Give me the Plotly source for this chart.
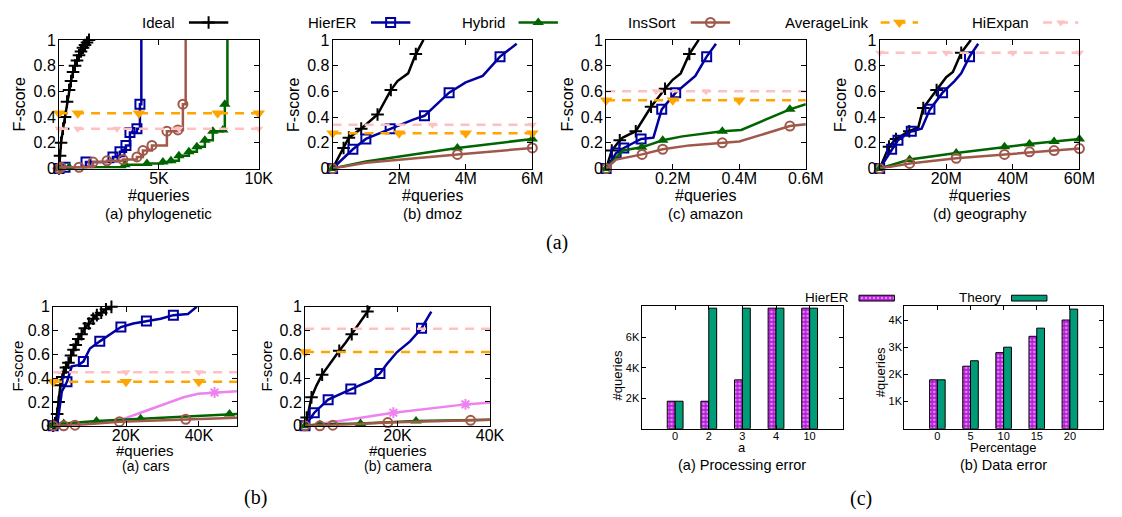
import plotly.graph_objects as go

W, H = 1122, 517
FONT = "Liberation Sans, Arial, sans-serif"
SERIF = "Liberation Serif, Times New Roman, serif"

# ---------------- data ----------------
# (a) phylogenetic  (x in thousands of queries)
phylo_ideal_x = [0, 0.05, 0.1, 0.2, 0.3, 0.4, 0.5, 0.6, 0.7, 0.8, 0.9, 1.0, 1.1, 1.2, 1.3, 1.4, 1.5]
phylo_ideal_y = [0, 0.1, 0.2, 0.31, 0.4, 0.52, 0.61, 0.68, 0.75, 0.8, 0.84, 0.88, 0.91, 0.94, 0.96, 0.98, 1.0]
phylo_hierer_x = [0, 0.3, 1.35, 2.7, 3.05, 3.35, 3.55, 3.9, 4.05, 4.12]
phylo_hierer_y = [0, 0.01, 0.05, 0.09, 0.13, 0.18, 0.28, 0.31, 0.5, 1.0]
phylo_hybrid_x = [0, 0.5, 3.3, 4.4, 5.2, 5.6, 6.0, 6.5, 6.9, 7.3, 7.7, 8.2, 8.3, 8.43]
phylo_hybrid_y = [0, 0.01, 0.03, 0.04, 0.05, 0.06, 0.1, 0.13, 0.17, 0.22, 0.29, 0.3, 0.5, 1.0]
phylo_inssort_x = [0, 0.1, 1.0, 1.7, 2.4, 3.2, 3.9, 4.2, 4.65, 5.4, 5.95, 6.2, 6.34]
phylo_inssort_y = [0, 0.01, 0.01, 0.05, 0.06, 0.07, 0.09, 0.14, 0.18, 0.29, 0.3, 0.5, 1.0]
phylo_avg_x = [0, 0.94, 4.0, 7.94, 10.0]
phylo_avg_y = [0.43, 0.43, 0.43, 0.43, 0.43]
phylo_hiexpan_x = [0, 0.94, 2.9, 6.0, 10.0]
phylo_hiexpan_y = [0.31, 0.31, 0.31, 0.31, 0.31]

# (b) dmoz  (x in millions)
dmoz_ideal_x = [0, 0.33, 0.49, 0.86, 1.35, 1.75, 1.95, 2.27, 2.5, 2.73]
dmoz_ideal_y = [0, 0.16, 0.24, 0.31, 0.42, 0.61, 0.68, 0.74, 0.89, 1.0]
dmoz_hierer_x = [0, 0.61, 1.0, 1.73, 2.42, 2.76, 3.5, 4.0, 4.51, 5.03, 5.53]
dmoz_hierer_y = [0, 0.15, 0.23, 0.31, 0.38, 0.41, 0.59, 0.67, 0.72, 0.87, 0.97]
dmoz_hybrid_x = [0, 1.0, 3.75, 6.0]
dmoz_hybrid_y = [0, 0.055, 0.16, 0.23]
dmoz_inssort_x = [0, 1.0, 3.75, 6.0]
dmoz_inssort_y = [0, 0.045, 0.11, 0.16]
dmoz_avg_x = [0, 2.0, 4.0, 6.0]
dmoz_avg_y = [0.275, 0.275, 0.275, 0.275]
dmoz_hiexpan_x = [0, 3.0, 6.0]
dmoz_hiexpan_y = [0.34, 0.34, 0.34]

# (c) amazon  (x in millions)
amazon_ideal_x = [0, 0.017, 0.041, 0.05, 0.089, 0.135, 0.177, 0.2, 0.224, 0.25, 0.278]
amazon_ideal_y = [0, 0.14, 0.22, 0.24, 0.29, 0.48, 0.62, 0.69, 0.74, 0.89, 1.0]
amazon_hierer_x = [0, 0.03, 0.053, 0.105, 0.142, 0.167, 0.209, 0.268, 0.302, 0.33]
amazon_hierer_y = [0, 0.12, 0.16, 0.23, 0.24, 0.46, 0.59, 0.72, 0.87, 0.97]
amazon_hybrid_x = [0, 0.05, 0.107, 0.17, 0.229, 0.349, 0.406, 0.552, 0.6]
amazon_hybrid_y = [0, 0.14, 0.165, 0.22, 0.25, 0.29, 0.30, 0.46, 0.5]
amazon_inssort_x = [0, 0.03, 0.108, 0.17, 0.25, 0.349, 0.4, 0.552, 0.6]
amazon_inssort_y = [0, 0.07, 0.11, 0.15, 0.18, 0.2, 0.21, 0.33, 0.345]
amazon_avg_x = [0, 0.2, 0.4, 0.6]
amazon_avg_y = [0.53, 0.53, 0.53, 0.53]
amazon_hiexpan_x = [0, 0.15, 0.3, 0.6]
amazon_hiexpan_y = [0.6, 0.6, 0.6, 0.6]

# (d) geography  (x in millions)
geo_ideal_x = [0, 2.8, 4.9, 8.9, 11.6, 13.1, 17.1, 20.0, 22.0, 24.5, 27.4]
geo_ideal_y = [0, 0.17, 0.23, 0.29, 0.32, 0.47, 0.61, 0.71, 0.75, 0.9, 1.0]
geo_hierer_x = [0, 3.6, 5.5, 9.5, 12.6, 15.1, 18.9, 22.5, 24.5, 27.0, 29.6]
geo_hierer_y = [0, 0.15, 0.22, 0.29, 0.31, 0.46, 0.59, 0.68, 0.74, 0.87, 0.97]
geo_hybrid_x = [0, 9.0, 23.0, 37.5, 45.0, 52.4, 60.0]
geo_hybrid_y = [0, 0.07, 0.12, 0.17, 0.19, 0.21, 0.23]
geo_inssort_x = [0, 9.0, 23.0, 37.5, 45.0, 52.4, 60.0]
geo_inssort_y = [0, 0.04, 0.08, 0.11, 0.13, 0.14, 0.155]
geo_hiexpan_x = [0, 20.0, 40.0, 60.0]
geo_hiexpan_y = [0.9, 0.9, 0.9, 0.9]

# (b)(a) cars  (x in thousands)
cars_ideal_x = [0, 0.5, 1.1, 1.5, 2.0, 2.5, 2.9, 3.5, 4.2, 4.9, 5.6, 6.2, 6.9, 7.8, 8.7, 9.8, 11.0, 12.0, 13.2, 14.5, 16.0]
cars_ideal_y = [0, 0.02, 0.1, 0.2, 0.34, 0.41, 0.45, 0.49, 0.53, 0.59, 0.64, 0.68, 0.73, 0.77, 0.82, 0.86, 0.9, 0.93, 0.95, 0.98, 1.0]
cars_hierer_x = [0, 1.1, 2.4, 3.8, 5.1, 6.9, 8.3, 10.1, 12.8, 16.0, 18.6, 22.0, 25.6, 29.5, 33.0, 37.0, 39.4]
cars_hierer_y = [0, 0, 0.29, 0.37, 0.5, 0.51, 0.54, 0.65, 0.71, 0.78, 0.83, 0.86, 0.88, 0.9, 0.93, 0.94, 1.0]
cars_other_x = [0, 11.4, 18.6, 24.0, 30.4, 35.8, 39.8, 44.3, 50.5]
cars_other_y = [0, 0.03, 0.05, 0.11, 0.18, 0.24, 0.27, 0.28, 0.29]
cars_hybrid_x = [0, 2.9, 11.9, 24.0, 48.4, 50.5]
cars_hybrid_y = [0, 0.02, 0.04, 0.06, 0.1, 0.1]
cars_inssort_x = [0, 2.9, 6.0, 18.2, 36.4, 50.5]
cars_inssort_y = [0, 0, 0.005, 0.035, 0.055, 0.068]
cars_avg_x = [0, 20.0, 40.0, 50.5]
cars_avg_y = [0.37, 0.37, 0.37, 0.37]
cars_hiexpan_x = [0, 20.0, 40.0, 50.5]
cars_hiexpan_y = [0.45, 0.45, 0.45, 0.45]

# (b)(b) camera  (x in thousands)
cam_ideal_x = [0, 0.35, 0.7, 1.4, 2.5, 3.7, 5.3, 7.4, 8.8, 10.1, 11.7, 13.5, 14.0]
cam_ideal_y = [0, 0.07, 0.11, 0.24, 0.34, 0.43, 0.52, 0.63, 0.7, 0.77, 0.86, 0.96, 1.0]
cam_hierer_x = [0, 2.0, 5.0, 9.9, 12.4, 14.2, 16.2, 17.7, 19.9, 22.7, 25.2, 27.3]
cam_hierer_y = [0, 0.11, 0.22, 0.31, 0.35, 0.38, 0.44, 0.52, 0.62, 0.71, 0.82, 0.96]
cam_other_x = [0, 5.7, 19.1, 34.7, 40.0]
cam_other_y = [0, 0.03, 0.11, 0.18, 0.195]
cam_hybrid_x = [0, 3.2, 12.0, 24.0, 40.0]
cam_hybrid_y = [0, 0.01, 0.02, 0.04, 0.05]
cam_inssort_x = [0, 3.2, 6.0, 17.9, 35.8, 40.0]
cam_inssort_y = [0, 0, 0.005, 0.027, 0.046, 0.05]
cam_avg_x = [0, 40.0]
cam_avg_y = [0.62, 0.62]
cam_hiexpan_x = [0, 40.0]
cam_hiexpan_y = [0.815, 0.815]

# (c) bar charts
proc_categories = ["0", "2", "3", "4", "10"]
proc_hierer = [1800, 1800, 3200, 7900, 7900]
proc_theory = [1800, 7900, 7900, 7900, 7900]
data_categories = ["0", "5", "10", "15", "20"]
data_hierer = [1800, 2300, 2800, 3400, 4000]
data_theory = [1800, 2500, 3000, 3700, 4400]

fscore_ticks = [0, 0.2, 0.4, 0.6, 0.8, 1.0]
fscore_labels = ["0", "0.2", "0.4", "0.6", "0.8", "1"]

# ---------------- styles ----------------
STY = {
    "ideal":   dict(color="black",   symbol="cross-thin",    size=9,  open=True),
    "hierer":  dict(color="#0000A0", symbol="square-open",   size=9,  open=True),
    "hybrid":  dict(color="#006400", symbol="triangle-up",   size=10, open=False),
    "inssort": dict(color="#A0584A", symbol="circle-open",   size=9,  open=True),
    "avg":     dict(color="#FFA500", symbol="triangle-down", size=11, open=False, dash="9px,7px"),
    "hiexpan": dict(color="#FFC0C0", symbol="triangle-down", size=8,  open=False, dash="9px,7px"),
    "other":   dict(color="#EE82EE", symbol="asterisk-open", size=9,  open=True),
}
PURPLE = "#B41CD8"
TEAL = "#009B77"

fig = go.Figure()


def mstyle(s):
    if s["open"]:
        return dict(symbol=s["symbol"], size=s["size"], color=s["color"],
                    line=dict(color=s["color"], width=2))
    return dict(symbol=s["symbol"], size=s["size"], color=s["color"], line=dict(width=0))


def axn(n, c):
    return c if n == 1 else f"{c}{n}"


def add(n, xs, ys, key, marks=None, shape="linear", width=2.5):
    s = STY[key]
    fig.add_trace(go.Scatter(x=xs, y=ys, mode="lines", xaxis=axn(n, "x"), yaxis=axn(n, "y"),
                             line=dict(color=s["color"], width=width, dash=s.get("dash", "solid"), shape=shape),
                             showlegend=False, hoverinfo="skip"))
    idx = range(len(xs)) if marks is None else marks
    fig.add_trace(go.Scatter(x=[xs[i] for i in idx], y=[ys[i] for i in idx], mode="markers",
                             xaxis=axn(n, "x"), yaxis=axn(n, "y"), marker=mstyle(s),
                             cliponaxis=False, showlegend=False, hoverinfo="skip"))


# phylogenetic
add(1, phylo_ideal_x, phylo_ideal_y, "ideal")
add(1, phylo_hierer_x, phylo_hierer_y, "hierer", marks=range(9), shape="hv")
add(1, phylo_hybrid_x, phylo_hybrid_y, "hybrid", marks=range(13), shape="hv")
add(1, phylo_inssort_x, phylo_inssort_y, "inssort", marks=range(12), shape="hv")
add(1, phylo_avg_x, phylo_avg_y, "avg")
add(1, phylo_hiexpan_x, phylo_hiexpan_y, "hiexpan")
# dmoz
add(2, dmoz_ideal_x, dmoz_ideal_y, "ideal", marks=[1, 2, 3, 4, 5, 8])
add(2, dmoz_hierer_x, dmoz_hierer_y, "hierer", marks=[0, 1, 2, 3, 5, 6, 9])
add(2, dmoz_hybrid_x, dmoz_hybrid_y, "hybrid", marks=[0, 2, 3])
add(2, dmoz_inssort_x, dmoz_inssort_y, "inssort", marks=[0, 2, 3])
add(2, dmoz_avg_x, dmoz_avg_y, "avg")
add(2, dmoz_hiexpan_x, dmoz_hiexpan_y, "hiexpan", marks=[1, 2])
# amazon
add(3, amazon_ideal_x, amazon_ideal_y, "ideal", marks=[1, 2, 4, 5, 6, 9])
add(3, amazon_hierer_x, amazon_hierer_y, "hierer", marks=[0, 1, 2, 3, 5, 6, 8])
add(3, amazon_hybrid_x, amazon_hybrid_y, "hybrid", marks=[0, 2, 3, 5, 7])
add(3, amazon_inssort_x, amazon_inssort_y, "inssort", marks=[0, 2, 3, 5, 7])
add(3, amazon_avg_x, amazon_avg_y, "avg", marks=[0, 1, 2])
add(3, amazon_hiexpan_x, amazon_hiexpan_y, "hiexpan", marks=[1, 2])
# geography
add(4, geo_ideal_x, geo_ideal_y, "ideal", marks=[1, 2, 3, 5, 6, 9])
add(4, geo_hierer_x, geo_hierer_y, "hierer", marks=[0, 1, 2, 3, 5, 6, 9])
add(4, geo_hybrid_x, geo_hybrid_y, "hybrid")
add(4, geo_inssort_x, geo_inssort_y, "inssort")
add(4, geo_hiexpan_x, geo_hiexpan_y, "hiexpan")
# cars
add(5, cars_ideal_x, cars_ideal_y, "ideal")
add(5, cars_hierer_x, cars_hierer_y, "hierer", marks=[0, 3, 6, 8, 10, 12, 14])
add(5, cars_other_x, cars_other_y, "other", marks=[7])
add(5, cars_hybrid_x, cars_hybrid_y, "hybrid", marks=[0, 1, 2, 3, 4])
add(5, cars_inssort_x, cars_inssort_y, "inssort", marks=[0, 1, 2, 3, 4])
add(5, cars_avg_x, cars_avg_y, "avg", marks=[0, 1, 2])
add(5, cars_hiexpan_x, cars_hiexpan_y, "hiexpan", marks=[1, 2])
# camera
add(6, cam_ideal_x, cam_ideal_y, "ideal", marks=[1, 3, 5, 7, 9, 11])
add(6, cam_hierer_x, cam_hierer_y, "hierer", marks=[0, 1, 2, 3, 6, 10])
add(6, cam_other_x, cam_other_y, "other", marks=[2, 3])
add(6, cam_hybrid_x, cam_hybrid_y, "hybrid", marks=[0, 1, 2, 3])
add(6, cam_inssort_x, cam_inssort_y, "inssort", marks=[0, 1, 2, 3, 4])
add(6, cam_avg_x, cam_avg_y, "avg", marks=[0])
add(6, cam_hiexpan_x, cam_hiexpan_y, "hiexpan", marks=[])

# bars
hier_marker = dict(color=PURPLE, line=dict(color="black", width=1),
                   pattern=dict(shape=".", fgcolor="white", size=4, solidity=0.35, fillmode="overlay"))
theory_marker = dict(color=TEAL, line=dict(color="black", width=1))
fig.add_trace(go.Bar(x=proc_categories, y=proc_hierer, xaxis="x7", yaxis="y7", marker=hier_marker,
                     showlegend=False, hoverinfo="skip"))
fig.add_trace(go.Bar(x=proc_categories, y=proc_theory, xaxis="x7", yaxis="y7", marker=theory_marker,
                     showlegend=False, hoverinfo="skip"))
fig.add_trace(go.Bar(x=data_categories, y=data_hierer, xaxis="x8", yaxis="y8", marker=hier_marker,
                     showlegend=False, hoverinfo="skip"))
fig.add_trace(go.Bar(x=data_categories, y=data_theory, xaxis="x8", yaxis="y8", marker=theory_marker,
                     showlegend=False, hoverinfo="skip"))

# ---------------- legend samples on a pixel overlay axis ----------------
legend_items = [("Ideal", "ideal", 180, 192, 232), ("HierER", "hierer", 365, 377, 417),
                ("Hybrid", "hybrid", 515, 527, 567), ("InsSort", "inssort", 689, 702, 742),
                ("AverageLink", "avg", 885, 895, 933), ("HiExpan", "hiexpan", 1048, 1060, 1096)]
LEG_Y = 15
annotations = []
for name, key, tx, l0, l1 in legend_items:
    s = STY[key]
    fig.add_trace(go.Scatter(x=[l0, l1], y=[LEG_Y, LEG_Y], mode="lines", xaxis="x9", yaxis="y9",
                             line=dict(color=s["color"], width=2.5, dash=s.get("dash", "solid")),
                             showlegend=False, hoverinfo="skip"))
    fig.add_trace(go.Scatter(x=[(l0 + l1) / 2], y=[LEG_Y], mode="markers", xaxis="x9", yaxis="y9",
                             marker=mstyle(s), showlegend=False, hoverinfo="skip", cliponaxis=False))
    annotations.append(dict(text=name, x=tx / W, y=1 - LEG_Y / H, xanchor="right", yanchor="middle",
                            font=dict(size=15)))

for name, mk, tx, l0 in [("HierER", hier_marker, 865, 873), ("Theory", theory_marker, 1019, 1028)]:
    fig.add_trace(go.Bar(x=[36], y=[300], base=[l0], orientation="h", width=[6], offset=-3,
                         xaxis="x9", yaxis="y9", marker=mk, showlegend=False, hoverinfo="skip"))
    annotations.append(dict(text=name, x=tx / W, y=1 - 299 / H, xanchor="right", yanchor="middle",
                            font=dict(size=13.5)))


def ann(text, px, py, size, angle=0, family=FONT):
    annotations.append(dict(text=text, x=px / W, y=1 - py / H, xanchor="center", yanchor="middle",
                            textangle=angle, font=dict(size=size, family=family)))


for cx, cap, yx in [(161.5, "(a) phylogenetic", 20), (439.5, "(b) dmoz", 298),
                    (717.5, "(c) amazon", 577), (995.5, "(d) geography", 854)]:
    ann("#queries", cx, 194, 16)
    ann(cap, cx, 213, 15)
    ann("F-score", yx, 100, 16, -90)
ann("(a)", 566, 242, 20, family=SERIF)

for cx, cap, yx in [(147.5, "(a) cars", 18), (404, "(b) camera", 271)]:
    ann("#queries", cx, 458, 15)
    ann(cap, cx, 474, 14)
    ann("F-score", yx, 370, 15, -90)
ann("(b)", 260, 506, 20, family=SERIF)

ann("a", 754.5, 454, 13)
ann("(a) Processing error", 754.5, 473, 14.5)
ann("#queries", 628, 380, 13, -90)
ann("Percentage", 1020, 454, 13)
ann("(b) Data error", 1020, 473, 14.5)
ann("#queries", 895, 377, 13, -90)
ann("(c)", 875, 507, 20, family=SERIF)

for a in annotations:
    a.update(xref="paper", yref="paper", showarrow=False)
    a["font"].setdefault("family", FONT)
    a["font"]["color"] = "black"

# ---------------- axes ----------------
panels = [
    (60, 263, 33, 166, [0, 10], [5, 10], ["5K", "10K"]),
    (338, 541, 33, 166, [0, 6], [2, 4, 6], ["2M", "4M", "6M"]),
    (616, 819, 33, 166, [0, 0.6], [0.2, 0.4, 0.6], ["0.2M", "0.4M", "0.6M"]),
    (894, 1097, 33, 166, [0, 60], [20, 40, 60], ["20M", "40M", "60M"]),
    (54, 241, 309, 432, [0, 50.5], [20, 40], ["20K", "40K"]),
    (310, 498, 309, 432, [0, 40], [20, 40], ["20K", "40K"]),
]
base = dict(showline=True, linecolor="black", linewidth=1, mirror="ticks", ticks="inside", ticklen=5,
            tickcolor="black", tickwidth=1, showgrid=False, zeroline=False, fixedrange=True)
layout = {}
for i, (x0, x1, y0, y1, xr, tv, tt) in enumerate(panels, start=1):
    fs = 16
    sfx = "" if i == 1 else str(i)
    layout["xaxis" + sfx] = dict(base, domain=[x0 / W, x1 / W], range=xr, tickvals=tv, ticktext=tt,
                                 anchor="y" + sfx, ticklabelstandoff=-5,
                                 tickfont=dict(family=FONT, size=fs, color="black"))
    layout["yaxis" + sfx] = dict(base, domain=[1 - y1 / H, 1 - y0 / H], range=[0, 1], tickvals=fscore_ticks,
                                 ticktext=fscore_labels, anchor="x" + sfx, ticklabelstandoff=-1,
                                 tickfont=dict(family=FONT, size=fs, color="black"))

bar_panels = [
    (7, 652, 857, 308, 435, [0, 8050], [2000, 4000, 6000], ["2K", "4K", "6K"]),
    (8, 919, 1121, 308, 435, [0, 4520], [1000, 2000, 3000, 4000], ["1K", "2K", "3K", "4K"]),
]
for i, x0, x1, y0, y1, yr, tv, tt in bar_panels:
    sfx = str(i)
    layout["xaxis" + sfx] = dict(base, domain=[x0 / W, x1 / W], range=[-1, 5], type="category",
                                 anchor="y" + sfx, ticklen=4, ticklabelstandoff=-3,
                                 tickfont=dict(family=FONT, size=11, color="black"))
    layout["yaxis" + sfx] = dict(base, domain=[1 - y1 / H, 1 - y0 / H], range=yr, tickvals=tv, ticktext=tt,
                                 anchor="x" + sfx, ticklen=4, ticklabelstandoff=-1,
                                 tickfont=dict(family=FONT, size=11, color="black"))

layout["xaxis9"] = dict(domain=[0, 1], range=[0, W], visible=False, fixedrange=True, anchor="y9")
layout["yaxis9"] = dict(domain=[0, 1], range=[H, 0], visible=False, fixedrange=True, anchor="x9")

fig.update_layout(
    width=W, height=H, margin=dict(l=0, r=0, t=0, b=0),
    paper_bgcolor="white", plot_bgcolor="rgba(0,0,0,0)",
    barmode="group", bargap=0.53, bargroupgap=0.0,
    font=dict(family=FONT, color="black"),
    annotations=annotations, showlegend=False,
    **layout,
)

fig.write_html("out.html", config={"displayModeBar": False},
               post_script="document.body.style.margin='0';document.body.style.padding='0';")
